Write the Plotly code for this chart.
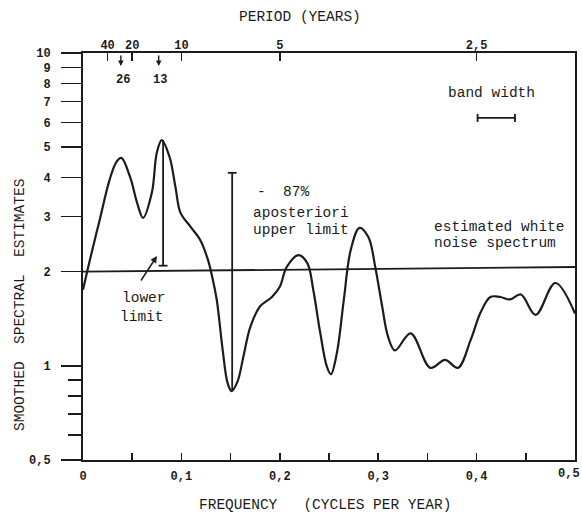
import math
import plotly.graph_objects as go

# ---------------- data ----------------
freq = [0.000, 0.007, 0.017, 0.027, 0.034, 0.039, 0.048, 0.055, 0.061, 0.070,
        0.075, 0.080, 0.088, 0.094, 0.099, 0.109, 0.119, 0.127, 0.132, 0.136,
        0.142, 0.147, 0.151, 0.157, 0.163, 0.170, 0.180, 0.192, 0.200, 0.207,
        0.219, 0.228, 0.234, 0.241, 0.248, 0.252, 0.258, 0.265, 0.272, 0.281,
        0.290, 0.297, 0.304, 0.310, 0.317, 0.333, 0.353, 0.368, 0.381, 0.394,
        0.404, 0.414, 0.424, 0.434, 0.445, 0.460, 0.480, 0.500]
spectrum = [1.75, 2.18, 2.93, 3.93, 4.49, 4.62, 4.00, 3.32, 2.97, 3.58,
            4.80, 5.27, 4.65, 3.72, 3.09, 2.79, 2.53, 2.18, 1.88, 1.62,
            1.12, 0.88, 0.83, 0.89, 1.07, 1.33, 1.55, 1.66, 1.79, 2.07,
            2.26, 2.13, 1.75, 1.28, 0.99, 0.94, 1.10, 1.62, 2.34, 2.76,
            2.58, 2.07, 1.55, 1.24, 1.12, 1.27, 0.985, 1.045, 0.985, 1.21,
            1.48, 1.66, 1.66, 1.63, 1.69, 1.455, 1.84, 1.47]

noise_freq = [0.0, 0.5]
noise_level = [2.0, 2.07]

period_ticks = [40, 20, 10, 5, 2.5]
period_labels = ["40", "20", "10", "5", "2,5"]
marked_periods = [26, 13]

limit_freq = [0.0814, 0.1516]       # lower-limit bar, upper-limit bar
limit_low = [2.09, 0.83]
limit_high = [5.27, 4.14]

band_freq = [0.401, 0.439]
band_level = 6.2

freq_ticks = [0, 0.05, 0.1, 0.15, 0.2, 0.25, 0.3, 0.35, 0.4, 0.45, 0.5]
freq_labels = ["0", "", "0,1", "", "0,2", "", "0,3", "", "0,4", "", ""]
last_freq_label = "0,5"
y_ticks = [0.5, 1, 2, 3, 4, 5, 6, 7, 8, 9, 10]
y_labels = ["0,5", "1", "2", "3", "4", "5", "6", "7", "8", "9", "10"]
y_minor = [0.6, 0.7, 0.8, 0.9]

# ---------------- style ----------------
INK = "#1c1c1c"
FONT = "Liberation Mono"
W, H = 582, 515
L, R, T, B = 83, 7, 53, 55
PW, PH = W - L - R, H - T - B


def px(x):   # screen x -> paper
    return (x - L) / PW


def py(y):   # screen y -> paper
    return (H - B - y) / PH


fig = go.Figure()

# spectrum curve
fig.add_trace(go.Scatter(x=freq, y=spectrum, mode="lines",
                         line=dict(color=INK, width=2.2, shape="spline", smoothing=1.0),
                         hoverinfo="skip", showlegend=False))

# white noise level (on top axis so it is drawn)
fig.add_trace(go.Scatter(x=noise_freq, y=noise_level, mode="lines", xaxis="x2",
                         line=dict(color=INK, width=1.8),
                         hoverinfo="skip", showlegend=False))

# limit bars
for f, lo, hi in zip(limit_freq, limit_low, limit_high):
    fig.add_trace(go.Scatter(x=[f, f], y=[lo, hi], mode="lines",
                             line=dict(color=INK, width=1.8),
                             hoverinfo="skip", showlegend=False))
cap = 0.0045
fig.add_trace(go.Scatter(
    x=[limit_freq[0] - cap, limit_freq[0] + cap, None, limit_freq[1] - cap, limit_freq[1] + cap],
    y=[limit_low[0], limit_low[0], None, limit_high[1], limit_high[1]],
    mode="lines", line=dict(color=INK, width=1.8), hoverinfo="skip", showlegend=False))

# band width bar
k = 10 ** (4 / 313)
fig.add_trace(go.Scatter(
    x=[band_freq[0], band_freq[1], None, band_freq[0], band_freq[0], None, band_freq[1], band_freq[1]],
    y=[band_level, band_level, None, band_level / k, band_level * k, None, band_level / k, band_level * k],
    mode="lines", line=dict(color=INK, width=1.8), hoverinfo="skip", showlegend=False))

tfont = dict(family=FONT, size=12, color=INK, weight="bold")
afont = dict(family=FONT, size=14.5, color=INK)
titlefont = dict(family=FONT, size=14.5, color=INK)

annotations = [
    dict(text="PERIOD (YEARS)", x=px(300), y=py(17), font=titlefont),
    dict(text="FREQUENCY   (CYCLES PER YEAR)", x=px(325), y=py(505), font=titlefont),
    dict(text="SMOOTHED  SPECTRAL  ESTIMATES", x=px(20), y=py(305), textangle=-90,
         font=titlefont),
    dict(text="-  87%", x=px(255), y=py(192), xanchor="left", font=afont),
    dict(text="aposteriori", x=px(251), y=py(213), xanchor="left", font=afont),
    dict(text="upper limit", x=px(251), y=py(230), xanchor="left", font=afont),
    dict(text="estimated white", x=px(432), y=py(227), xanchor="left", font=afont),
    dict(text="noise spectrum", x=px(432), y=py(243), xanchor="left", font=afont),
    dict(text="band width", x=px(491), y=py(93), font=afont),
    dict(text="lower", x=px(144), y=py(298), font=afont),
    dict(text="limit", x=px(142), y=py(317), font=afont),
    dict(text="26", x=px(123), y=py(80), font=tfont),
    dict(text="13", x=px(160), y=py(80), font=tfont),
    dict(text=last_freq_label, x=px(569), y=py(474), font=tfont),
]
for a in annotations:
    a.setdefault("xanchor", "center")
    a.update(xref="paper", yref="paper", showarrow=False, yanchor="middle")

# arrows under the top axis at periods 26 and 13
for p in marked_periods:
    annotations.append(dict(text="", x=1 / p, xref="x", y=py(66), yref="paper",
                            showarrow=True, ax=0, ay=-12, arrowhead=2, arrowsize=0.8,
                            arrowwidth=1.4, arrowcolor=INK))
# arrow from "lower limit" to the bar
annotations.append(dict(text="", x=px(157), y=py(256), xref="paper", yref="paper",
                        showarrow=True, ax=-17, ay=26, arrowhead=2, arrowsize=0.9,
                        arrowwidth=1.5, arrowcolor=INK))

fig.update_layout(
    width=W, height=H,
    margin=dict(l=L, r=R, t=T, b=B, autoexpand=False),
    paper_bgcolor="white", plot_bgcolor="white",
    showlegend=False,
    annotations=annotations,
    xaxis=dict(range=[0, 0.5], tickmode="array", tickvals=freq_ticks, ticktext=freq_labels,
               ticks="inside", ticklen=7, tickwidth=1.6, tickcolor=INK,
               showline=True, linecolor=INK, linewidth=2, mirror=True, automargin=False,
               showgrid=False, zeroline=False, tickfont=tfont, ticklabelstandoff=4),
    xaxis2=dict(range=[0, 0.5], overlaying="x", side="top", anchor="y",
                tickmode="array", tickvals=[1 / p for p in period_ticks], ticktext=period_labels,
                ticks="inside", ticklen=8, tickwidth=1.6, tickcolor=INK, automargin=False,
                showline=False, showgrid=False, zeroline=False, tickfont=tfont,
                ticklabelstandoff=1),
    yaxis=dict(type="log", range=[math.log10(0.5), 1], tickmode="array",
               tickvals=y_ticks, ticktext=y_labels,
               ticks="outside", ticklen=20, tickwidth=1.6, tickcolor=INK,
               minor=dict(tickmode="array", tickvals=y_minor, ticks="outside", ticklen=13,
                          tickwidth=1.6, tickcolor=INK, showgrid=False),
               showline=True, linecolor=INK, linewidth=2, mirror=True, automargin=False,
               showgrid=False, zeroline=False, tickfont=tfont, ticklabelstandoff=8),
)

fig.write_html(
    "out.html",
    config={"displayModeBar": False, "staticPlot": True},
    post_script="document.body.style.margin='0px';"
                "document.documentElement.style.overflow='hidden';",
)
